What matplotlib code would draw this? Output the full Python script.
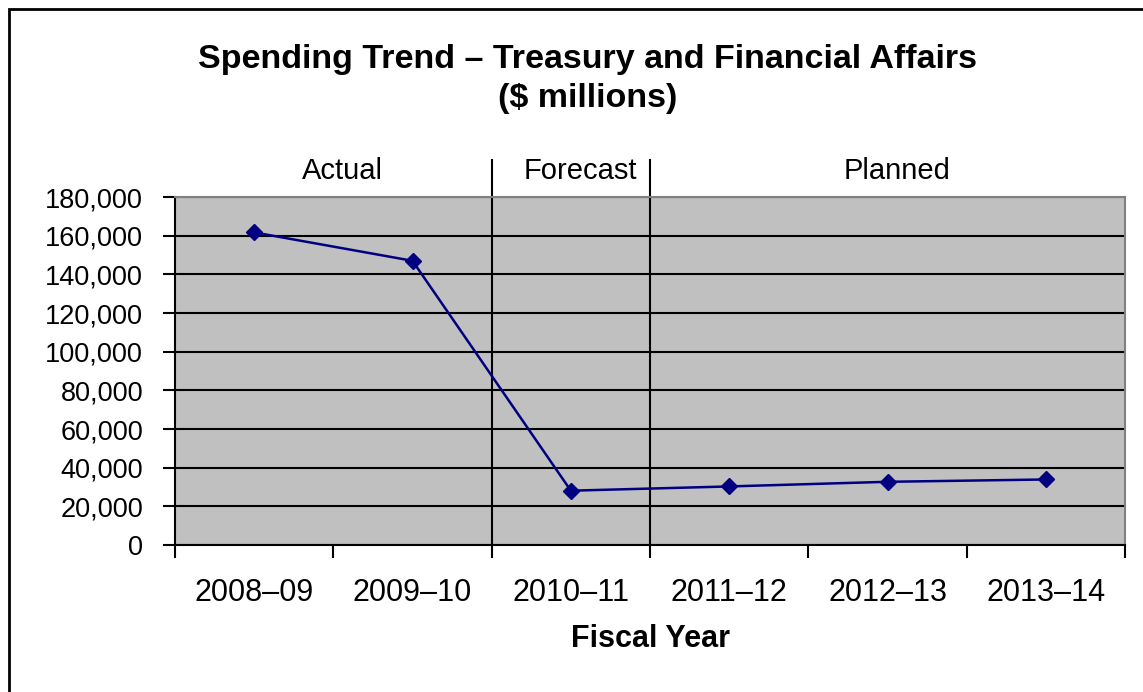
import matplotlib.pyplot as plt
from matplotlib.patches import Rectangle
from matplotlib.ticker import FuncFormatter

plt.rcParams['font.family'] = ['Liberation Sans', 'DejaVu Sans']

# Spending by fiscal year ($ millions)
years = ['2008–09', '2009–10', '2010–11', '2011–12', '2012–13', '2013–14']
spending = [161700, 147000, 28100, 30300, 32700, 33900]
periods = ['Actual', 'Forecast', 'Planned']
period_spans = [(0, 1), (2, 2), (3, 5)]

fig = plt.figure(figsize=(11.43, 6.92), dpi=100)
ax = fig.add_axes([0.1531, 0.2124, 0.8312, 0.5029])

ax.set_facecolor('#c0c0c0')
x = list(range(len(years)))
ax.plot(x, spending, color='#000080', lw=1.8, marker='D', markersize=8,
        markerfacecolor='#000080', markeredgecolor='#000080', zorder=3)

ax.set_xlim(-0.5, len(years) - 0.5)
ax.set_ylim(0, 180000)
ax.set_yticks(range(0, 180001, 20000))
ax.yaxis.set_major_formatter(FuncFormatter(lambda v, p: f'{int(v):,}'))
ax.yaxis.grid(True, color='black', lw=1.5)
ax.set_axisbelow(True)

# category ticks sit on the boundaries, labels in the middle
ax.set_xticks([i - 0.5 for i in range(len(years) + 1)])
ax.set_xticklabels([])
ax.set_xticks(x, minor=True)
ax.set_xticklabels(years, minor=True, fontsize=22)
ax.tick_params(axis='x', which='major', length=9, width=1.5, color='black')
ax.tick_params(axis='x', which='minor', length=0, pad=24)
ax.tick_params(axis='y', length=9, width=1.5, labelsize=19.5, pad=14)

for s in ['top', 'right']:
    ax.spines[s].set_color('#808080')
    ax.spines[s].set_linewidth(1.5)
for s in ['left', 'bottom']:
    ax.spines[s].set_color('black')
    ax.spines[s].set_linewidth(1.5)

# period dividers reaching above the plot area
for (start, end) in period_spans[1:]:
    ax.plot([start - 0.5, start - 0.5], [0, 1.105], transform=ax.get_xaxis_transform(),
            color='black', lw=1.5, clip_on=False)
for name, (start, end) in zip(periods, period_spans):
    ax.text((start + end) / 2 + 0.06, 1.075, name, transform=ax.get_xaxis_transform(),
            ha='center', va='center', fontsize=21)

ax.set_xlabel('Fiscal Year', fontsize=22, fontweight='bold', labelpad=11)

fig.text(0.514, 0.886, 'Spending Trend – Treasury and Financial Affairs\n($ millions)',
         ha='center', va='center', fontsize=24.5, fontweight='bold', linespacing=1.33)

# outer chart frame
fig.patches.append(Rectangle((9 / 1143, -0.1), 1.2, (692 - 9) / 692 + 0.1,
                             transform=fig.transFigure, fill=False,
                             edgecolor='black', lw=2))

fig.savefig('out.png', dpi=100)
